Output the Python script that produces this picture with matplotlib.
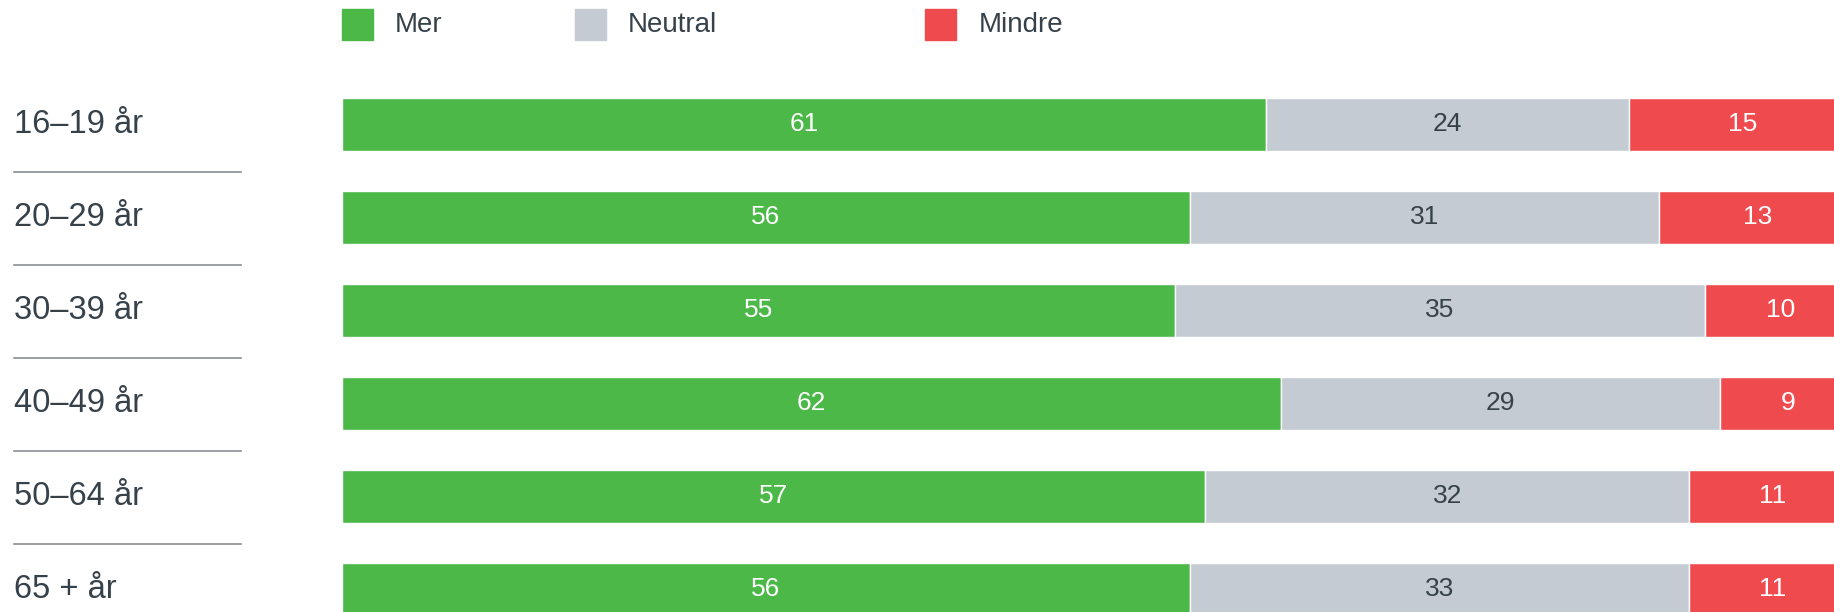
import matplotlib.pyplot as plt
from matplotlib.patches import Rectangle
from matplotlib.lines import Line2D
from matplotlib.transforms import blended_transform_factory

plt.rcParams['font.family'] = ['Liberation Sans', 'DejaVu Sans']

# data
groups = ['16–19 år', '20–29 år', '30–39 år', '40–49 år', '50–64 år', '65 + år']
mer = [61, 56, 55, 62, 57, 56]
neutral = [24, 31, 35, 29, 32, 33]
mindre = [15, 13, 10, 9, 11, 11]
series_names = ['Mer', 'Neutral', 'Mindre']

colors = ['#4cb848', '#c4cbd2', '#ef4b4f']
text_dark = '#36414a'
label_colors = ['white', text_dark, 'white']

W, H = 1834, 612
fig = plt.figure(figsize=(W / 100, H / 100), dpi=100)
ax = fig.add_axes([342 / W, 0, 1 - 342 / W, 1])

y = list(range(len(groups)))
left = [0] * len(groups)
for vals, col, tcol in zip([mer, neutral, mindre], colors, label_colors):
    ax.barh(y, vals, left=left, height=0.57, color=col,
            edgecolor='white', linewidth=1)
    for i, v in enumerate(vals):
        ax.text(left[i] + v / 2, i, str(v), ha='center', va='center',
                fontsize=19, color=tcol)
    left = [l + v for l, v in zip(left, vals)]

ax.set_xlim(0, 98.55)
ax.set_ylim(5.247, -1.340)
ax.axis('off')

# category labels and separator lines on the left
tr = blended_transform_factory(fig.transFigure, ax.transData)
for i, g in enumerate(groups):
    ax.text(14 / W, i, g, transform=tr, ha='left', va='center',
            fontsize=23.5, color=text_dark)
    if i < len(groups) - 1:
        fig.lines.append(Line2D([14 / W, 241 / W], [i + 0.51, i + 0.51],
                                transform=tr, color='#8a8f94', linewidth=1.2))

# legend at the top
sq_x = [342, 575, 925]
txt_x = [395, 628, 979]
for name, col, sx, tx in zip(series_names, colors, sq_x, txt_x):
    fig.patches.append(Rectangle((sx / W, 1 - 40 / H), 31 / W, 31 / H,
                                 transform=fig.transFigure, color=col))
    fig.text(tx / W, 1 - 24.5 / H, name, ha='left', va='center',
             fontsize=20, color=text_dark)

fig.savefig('out.png', dpi=100)
